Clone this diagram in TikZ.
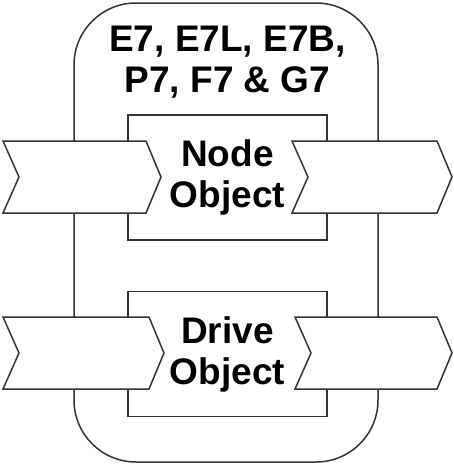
\documentclass[tikz,border=0pt]{standalone}
\usepackage{fontspec}
\setmainfont{Liberation Sans}
\usepackage{xcolor}
\usepackage{tikz}
\definecolor{ink}{HTML}{333333}
\tikzset{
  frame/.style={draw=ink, line width=1.5pt, rounded corners=62pt},
  box/.style={draw=ink, line width=1.5pt, fill=white, minimum width=199pt, minimum height=125pt, inner sep=0pt},
  chev/.style={draw=ink, line width=1.5pt, fill=white, line join=miter},
  lab/.style={text=black, font=\bfseries\fontsize{37}{41}\selectfont, align=center, inner sep=0pt},
}
\begin{document}
\begin{tikzpicture}[x=1pt,y=-1pt]
  \fill[white] (0,0) rectangle (454,464);
  \useasboundingbox (0,0) rectangle (454,464);
  % device outline
  \draw[frame] (74,3) rectangle (378,462);
  \node[lab] (title) at (227.5,62) {E7, E7L, E7B,\\P7, F7 \& G7};
  % objects
  \node[box] (nodeobj) at (227.5,177.5) {};
  \node[box] (driveobj) at (227.5,354) {};
  % in and out chevrons
  \foreach \x/\y/\w in {3/141/143, 292/141/145, 3/317/146, 295/317/142}{
    \draw[chev] (\x,\y) -- ++(\w,0) -- ++(15,36) -- ++(-15,36) -- ++(-\w,0) -- ++(16,-36) -- cycle;
  }
  \node[lab] at (nodeobj) {Node\\Object};
  \node[lab] at (driveobj) {Drive\\Object};
\end{tikzpicture}
\end{document}
